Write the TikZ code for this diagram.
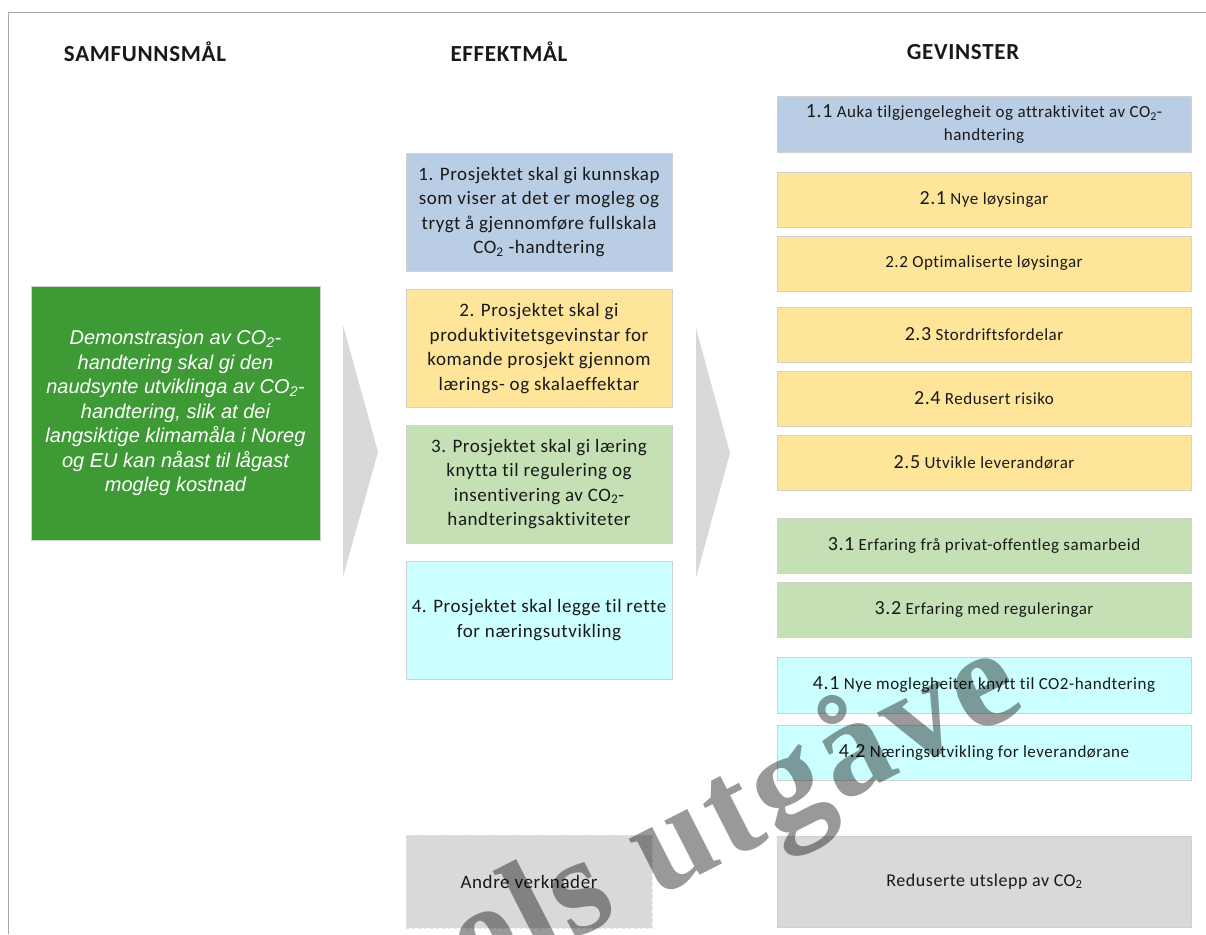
\documentclass[tikz,border=0pt]{standalone}
\usepackage{fontspec}
\setmainfont{Carlito}[LetterSpace=3,Ligatures=NoCommon]
\newfontfamily\arialfont{Liberation Sans}
\newfontfamily\wmfont{Liberation Serif}[LetterSpace=3]

\definecolor{blaa}{RGB}{185,205,228}
\definecolor{gul}{RGB}{255,229,153}
\definecolor{lysgronn}{RGB}{197,224,180}
\definecolor{turkis}{RGB}{204,255,255}
\definecolor{gronn}{RGB}{62,154,53}
\definecolor{graa}{RGB}{217,217,217}

\newcommand{\nr}[1]{{\fontsize{20}{22}\selectfont #1}}
\newcommand{\cotwo}{CO\textsubscript{2}}

\begin{document}
\begin{tikzpicture}[x=1pt,y=-1pt,
        boks/.style={draw=black!18,line width=0.6pt,inner sep=0pt,align=center,text=black!90},
        effboks/.style={boks,minimum width=266,minimum height=118,font=\fontsize{19}{24.5}\selectfont},
        gevboks/.style={boks,minimum width=414,font=\fontsize{17}{23}\selectfont},
        overskrift/.style={font=\fontsize{23}{26}\selectfont\bfseries,text=black!90},
        pil/.style={fill=graa}]
        \useasboundingbox (0,0) rectangle (1206,934);

        % frame
        \draw[black!35,line width=1pt] (8,934) -- (8,13) -- (1206,13);

        % column headings
        \node[overskrift] (hsam) at (145,52) {SAMFUNNSMÅL};
        \node[overskrift] (heff) at (509,52) {EFFEKTMÅL};
        \node[overskrift] (hgev) at (963,52) {GEVINSTER};

        % samfunnsmaal
        \node[boks,fill=gronn,text=white,minimum width=289,minimum height=254,
              font=\arialfont\itshape\fontsize{20}{24.5}\selectfont] (sam) at (175.5,413)
              {Demonstrasjon av \cotwo-\\handtering skal gi den\\naudsynte utviklinga av \cotwo-\\
               handtering, slik at dei\\langsiktige klimamåla i Noreg\\og EU kan nåast til lågast\\mogleg kostnad};

        % the two big arrows
        \fill[pil] (343,325) -- (378,452) -- (343,577) -- cycle;
        \fill[pil] (696,328) -- (730,453) -- (696,578) -- cycle;

        % effektmaal
        \node[effboks,fill=blaa] (eff1) at (539,212)
              {1. Prosjektet skal gi kunnskap\\som viser at det er mogleg og\\trygt å gjennomføre fullskala\\\cotwo{} -handtering};
        \node[effboks,fill=gul] (eff2) at (539,348.5)
              {2. Prosjektet skal gi\\produktivitetsgevinstar for\\komande prosjekt gjennom\\lærings- og skalaeffektar};
        \node[effboks,fill=lysgronn] (eff3) at (539,484)
              {3. Prosjektet skal gi læring\\knytta til regulering og\\insentivering av \cotwo-\\handteringsaktiviteter};
        \node[effboks,fill=turkis] (eff4) at (539,620)
              {4. Prosjektet skal legge til rette\\for næringsutvikling};
        \node[effboks,fill=graa,draw=black!10,dashed,minimum width=246,minimum height=93] (andre) at (529,881.5)
              {Andre verknader};

        % gevinster
        \foreach \nm/\ya/\yb/\col/\txt in {
            g11/96/152/blaa/{\nr{1.1} Auka tilgjengelegheit og attraktivitet av \cotwo-\\handtering},
            g21/172/227/gul/{\nr{2.1} Nye løysingar},
            g22/236/291/gul/{2.2 Optimaliserte løysingar},
            g23/307/362/gul/{\nr{2.3} Stordriftsfordelar},
            g24/371/426/gul/{\nr{2.4} Redusert risiko},
            g25/435/490/gul/{\nr{2.5} Utvikle leverandørar},
            g31/518/573/lysgronn/{\nr{3.1} Erfaring frå privat-offentleg samarbeid},
            g32/582/637/lysgronn/{\nr{3.2} Erfaring med reguleringar},
            g41/657/713/turkis/{\nr{4.1} Nye moglegheiter knytt til CO2-handtering},
            g42/725/780/turkis/{\nr{4.2} Næringsutvikling for leverandørane}}
                \node[gevboks,fill=\col,minimum height={\yb-\ya}] (\nm) at (984,{(\ya+\yb)/2}) {\txt};

        \node[gevboks,fill=graa,minimum height=91,font=\fontsize{18}{22}\selectfont] (utslepp) at (984.5,881.5)
              {Reduserte utslepp av \cotwo};

        % watermark
        \node[anchor=base west,rotate=27,text=black,text opacity=0.4,inner sep=0pt,
              font=\wmfont\bfseries\fontsize{140}{140}\selectfont] (wm) at (475,990) {els utgåve};
\end{tikzpicture}
\end{document}
